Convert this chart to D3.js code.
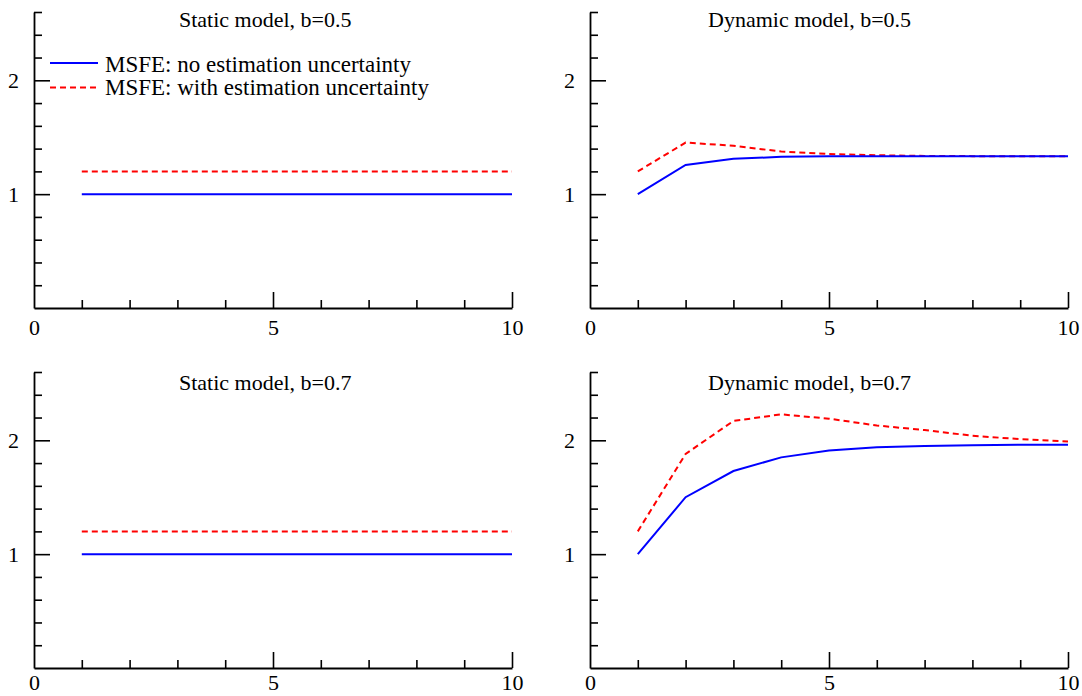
<!DOCTYPE html>
<html>
<head>
<meta charset="utf-8">
<script src="https://cdn.jsdelivr.net/npm/d3@7"></script>
<style>
  html, body { margin: 0; padding: 0; background: #fff; }
  svg { display: block; font-family: "Liberation Serif", "Times New Roman", serif; }
</style>
</head>
<body>
<svg id="chart" width="1082" height="696"></svg>
<script>
// ---- data ----
const horizons = [1, 2, 3, 4, 5, 6, 7, 8, 9, 10];

const staticB05NoUnc   = [1.0, 1.0, 1.0, 1.0, 1.0, 1.0, 1.0, 1.0, 1.0, 1.0];
const staticB05WithUnc = [1.2, 1.2, 1.2, 1.2, 1.2, 1.2, 1.2, 1.2, 1.2, 1.2];

const dynamicB05NoUnc   = [1.0, 1.257, 1.31, 1.328, 1.332, 1.333, 1.333, 1.333, 1.333, 1.333];
const dynamicB05WithUnc = [1.2, 1.453, 1.426, 1.374, 1.353, 1.342, 1.336, 1.334, 1.333, 1.333];

const staticB07NoUnc   = [1.0, 1.0, 1.0, 1.0, 1.0, 1.0, 1.0, 1.0, 1.0, 1.0];
const staticB07WithUnc = [1.2, 1.2, 1.2, 1.2, 1.2, 1.2, 1.2, 1.2, 1.2, 1.2];

const dynamicB07NoUnc   = [1.0, 1.50, 1.73, 1.85, 1.91, 1.94, 1.95, 1.956, 1.962, 1.962];
const dynamicB07WithUnc = [1.2, 1.88, 2.17, 2.228, 2.19, 2.13, 2.09, 2.04, 2.01, 1.99];

const panelTitles = ["Static model, b=0.5", "Dynamic model, b=0.5", "Static model, b=0.7", "Dynamic model, b=0.7"];
const seriesNames = ["MSFE: no estimation uncertainty", "MSFE: with estimation uncertainty"];

const xTickLabels = [0, 5, 10];
const xMinorTicks = [1, 2, 3, 4, 6, 7, 8, 9];
const xMajorTicks = [5, 10];
const yTickLabels = [1, 2];
const yMinorTicks = [0.2, 0.4, 0.6, 0.8, 1.2, 1.4, 1.6, 1.8, 2.2, 2.4, 2.6];
const yMajorTicks = [1, 2];

// ---- layout ----
const panels = [
  { title: panelTitles[0], noUnc: staticB05NoUnc,  withUnc: staticB05WithUnc,  left: 34,  top: 12,  titleX: 179, titleY: 27,  legend: true },
  { title: panelTitles[1], noUnc: dynamicB05NoUnc, withUnc: dynamicB05WithUnc, left: 590, top: 12,  titleX: 708, titleY: 27 },
  { title: panelTitles[2], noUnc: staticB07NoUnc,  withUnc: staticB07WithUnc,  left: 34,  top: 372, titleX: 179, titleY: 390 },
  { title: panelTitles[3], noUnc: dynamicB07NoUnc, withUnc: dynamicB07WithUnc, left: 590, top: 372, titleX: 708, titleY: 390 }
];
const W = 478, H = 296;
const TICK_FONT = 22, TITLE_FONT = 22, LEGEND_FONT = 23;
const blue = "#0000ff", red = "#ff0000";

const svg = d3.select("#chart");

panels.forEach((p, pi) => {
  const g = svg.append("g").attr("transform", `translate(${p.left},${p.top})`);
  const x = d3.scaleLinear().domain([0, 10]).range([0, W]);
  const y = d3.scaleLinear().domain([0, 2.6]).range([H, 0]);

  const styleAxis = sel => {
    sel.selectAll("path.domain").attr("stroke", "#000").attr("stroke-width", 1.8);
    sel.selectAll(".tick line").attr("stroke", "#000").attr("stroke-width", 1.6);
    sel.selectAll("text").attr("font-family", "Liberation Serif").attr("font-size", TICK_FONT).attr("fill", "#000");
  };

  // y axis: minor ticks (inward)
  g.append("g").call(d3.axisRight(y).tickValues(yMinorTicks).tickSize(8).tickSizeOuter(0).tickFormat(""))
    .call(styleAxis);
  // y axis: major ticks
  g.append("g").call(d3.axisRight(y).tickValues(yMajorTicks).tickSize(16).tickFormat(""))
    .call(s => s.select("path.domain").remove()).call(styleAxis);
  // y labels
  g.append("g").call(d3.axisLeft(y).tickValues(yTickLabels).tickSize(0).tickPadding(15).tickFormat(d3.format("d")))
    .call(s => s.select("path.domain").remove()).call(styleAxis);

  // x axis: minor ticks (upward)
  g.append("g").attr("transform", `translate(0,${H})`)
    .call(d3.axisTop(x).tickValues(xMinorTicks).tickSize(8).tickSizeOuter(0).tickFormat(""))
    .call(styleAxis);
  g.append("g").attr("transform", `translate(0,${H})`)
    .call(d3.axisTop(x).tickValues(xMajorTicks).tickSize(16).tickFormat(""))
    .call(s => s.select("path.domain").remove()).call(styleAxis);
  g.append("g").attr("transform", `translate(0,${H})`)
    .call(d3.axisBottom(x).tickValues(xTickLabels).tickSize(0).tickPadding(pi < 2 ? 11 : 6).tickFormat(d3.format("d")))
    .call(s => s.select("path.domain").remove()).call(styleAxis);

  // lines
  const line = d3.line().x((d, i) => x(horizons[i])).y(d => y(d));
  g.append("path").datum(p.withUnc).attr("d", line)
    .attr("fill", "none").attr("stroke", red).attr("stroke-width", 2).attr("stroke-dasharray", "6,4");
  g.append("path").datum(p.noUnc).attr("d", line)
    .attr("fill", "none").attr("stroke", blue).attr("stroke-width", 2);

  // title
  svg.append("text").attr("x", p.titleX).attr("y", p.titleY)
    .attr("font-size", TITLE_FONT).attr("fill", "#000").text(p.title);

  if (p.legend) {
    const items = [
      { name: seriesNames[0], color: blue, dash: null, ly: 63, ty: 71.5 },
      { name: seriesNames[1], color: red, dash: "6,4", ly: 87.5, ty: 95 }
    ];
    items.forEach(it => {
      svg.append("line").attr("x1", 50).attr("x2", 98).attr("y1", it.ly).attr("y2", it.ly)
        .attr("stroke", it.color).attr("stroke-width", 2).attr("stroke-dasharray", it.dash);
      svg.append("text").attr("x", 105).attr("y", it.ty).attr("font-size", LEGEND_FONT).attr("fill", "#000").text(it.name);
    });
  }
});
</script>
</body>
</html>
